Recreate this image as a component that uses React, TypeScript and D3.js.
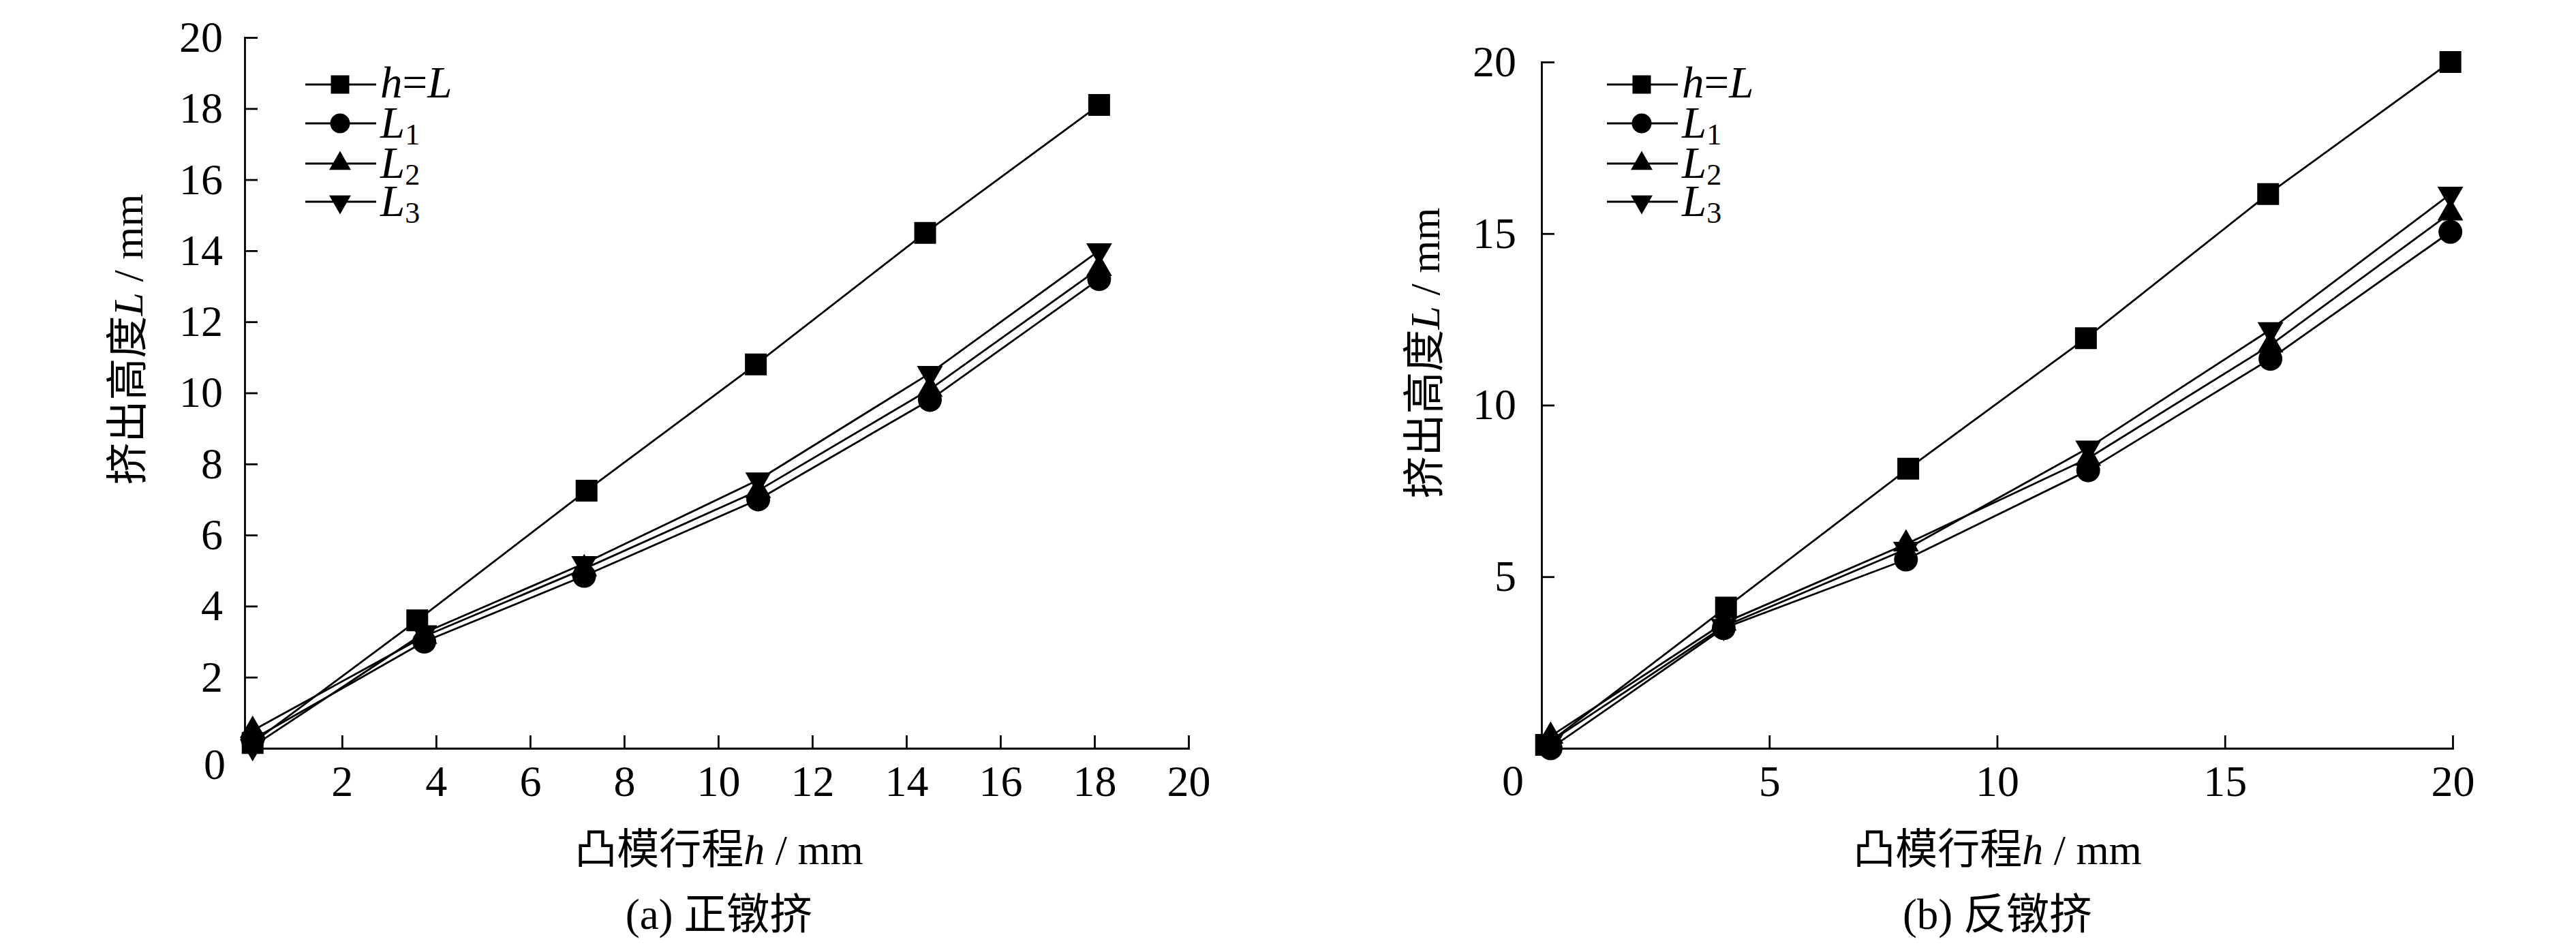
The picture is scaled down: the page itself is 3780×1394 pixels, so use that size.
import React, { useEffect, useRef } from 'react';
import * as d3 from 'd3';

// (a) 正镦挤
const xA_hL = [0.1, 3.6, 7.2, 10.8, 14.4, 18.1];
const yA_hL = [0.15, 3.6, 7.25, 10.8, 14.5, 18.1];
const xA_L = [0.1, 3.75, 7.15, 10.85, 14.5, 18.1];
const yA_L1 = [0.25, 3.0, 4.85, 7.0, 9.8, 13.2];
const yA_L2 = [0.5, 3.15, 5.05, 7.25, 10.1, 13.5];
const yA_L3 = [0.05, 3.25, 5.2, 7.55, 10.55, 14.0];

// (b) 反镦挤
const xB_hL = [0.1, 4.05, 8.05, 11.95, 15.95, 19.95];
const yB_hL = [0.1, 4.1, 8.15, 11.95, 16.15, 20.0];
const xB_L = [0.2, 4.0, 8.0, 12.0, 16.0, 19.95];
const yB_L1 = [0.0, 3.5, 5.5, 8.1, 11.35, 15.05];
const yB_L2 = [0.35, 3.65, 5.95, 8.45, 11.75, 15.6];
const yB_L3 = [0.2, 3.55, 5.8, 8.75, 12.2, 16.15];

const ticksA = [2, 4, 6, 8, 10, 12, 14, 16, 18, 20];
const ticksB = [5, 10, 15, 20];

const seriesNames = ['h=L', 'L1', 'L2', 'L3'];

const FONT = "'Liberation Serif', 'Times New Roman', 'Noto Sans CJK SC', serif";
const SW = 2.8;

type Kind = 'square' | 'circle' | 'up' | 'down';

interface Series {
  name: string;
  kind: Kind;
  xs: number[];
  ys: number[];
}

interface PanelCfg {
  series: Series[];
  xDomain: [number, number];
  xRange: [number, number];
  yRange: [number, number];
  xTicks: number[];
  yTicks: number[];
  yPad: number;
  zero: { x: number; y: number };
  legendX: number;
  yTitle: { x: number; y: number };
  centerX: number;
  caption: string;
}

const kinds: Kind[] = ['square', 'circle', 'up', 'down'];

const panelA: PanelCfg = {
  series: [
    { name: seriesNames[0], kind: kinds[0], xs: xA_hL, ys: yA_hL },
    { name: seriesNames[1], kind: kinds[1], xs: xA_L, ys: yA_L1 },
    { name: seriesNames[2], kind: kinds[2], xs: xA_L, ys: yA_L2 },
    { name: seriesNames[3], kind: kinds[3], xs: xA_L, ys: yA_L3 },
  ],
  xDomain: [-0.07, 20],
  xRange: [359, 1744],
  yRange: [1098, 55],
  xTicks: ticksA,
  yTicks: ticksA,
  yPad: 32,
  zero: { x: 315, y: 1143 },
  legendX: 448,
  yTitle: { x: 188, y: 498 },
  centerX: 1055,
  caption: '(a) 正镦挤',
};

const panelB: PanelCfg = {
  series: [
    { name: seriesNames[0], kind: kinds[0], xs: xB_hL, ys: yB_hL },
    { name: seriesNames[1], kind: kinds[1], xs: xB_L, ys: yB_L1 },
    { name: seriesNames[2], kind: kinds[2], xs: xB_L, ys: yB_L2 },
    { name: seriesNames[3], kind: kinds[3], xs: xB_L, ys: yB_L3 },
  ],
  xDomain: [0, 20],
  xRange: [2262, 3599],
  yRange: [1098, 91],
  xTicks: ticksB,
  yTicks: ticksB,
  yPad: 37,
  zero: { x: 2220, y: 1167 },
  legendX: 2358,
  yTitle: { x: 2091, y: 518 },
  centerX: 2931,
  caption: '(b) 反镦挤',
};

function symbolPath(kind: Kind, big: boolean) {
  if (kind === 'square') return d3.symbol(d3.symbolSquare, big ? 1024 : 729)();
  if (kind === 'circle') return d3.symbol(d3.symbolCircle, big ? 960 : 660)();
  return d3.symbol(d3.symbolTriangle, big ? 620 : 440)();
}

function addLabel(t: d3.Selection<SVGTextElement, unknown, null, undefined>, name: string) {
  if (name === 'h=L') {
    t.append('tspan').attr('font-style', 'italic').text('h');
    t.append('tspan').text('=');
    t.append('tspan').attr('font-style', 'italic').text('L');
  } else {
    t.append('tspan').attr('font-style', 'italic').text(name[0]);
    t.append('tspan').attr('font-size', 44).attr('dy', 10).text(name.slice(1));
  }
}

const Panel: React.FC<{ cfg: PanelCfg }> = ({ cfg }) => {
  const ref = useRef<SVGGElement>(null);

  useEffect(() => {
    if (!ref.current) return;
    const g = d3.select(ref.current);
    g.selectAll('*').remove();

    const x = d3.scaleLinear().domain(cfg.xDomain).range(cfg.xRange);
    const y = d3.scaleLinear().domain([0, 20]).range(cfg.yRange);

    const styleAxis = (ax: d3.Selection<SVGGElement, unknown, null, undefined>) => {
      ax.selectAll('path, line').attr('stroke', '#000').attr('stroke-width', SW);
      ax.select('.domain').attr('stroke-linecap', 'square');
      ax.selectAll('text').attr('font-size', 64).attr('font-family', FONT).attr('fill', '#000');
    };

    // y axis, ticks point inward
    const yAx = g.append('g')
      .attr('transform', `translate(${cfg.xRange[0]},0)`)
      .call(d3.axisLeft(y).tickValues(cfg.yTicks).tickSizeInner(-19).tickSizeOuter(0)
        .tickPadding(cfg.yPad).tickFormat(d3.format('d')));
    styleAxis(yAx);

    // x axis
    const xAx = g.append('g')
      .attr('transform', `translate(0,${cfg.yRange[0]})`)
      .call(d3.axisBottom(x).tickValues(cfg.xTicks).tickSizeInner(-19).tickSizeOuter(0)
        .tickPadding(25).tickFormat(d3.format('d')));
    styleAxis(xAx);

    g.append('text')
      .attr('x', cfg.zero.x)
      .attr('y', cfg.zero.y)
      .attr('text-anchor', 'middle')
      .attr('font-size', 64)
      .attr('font-family', FONT)
      .text('0');

    // series
    const line = d3.line<[number, number]>().x(d => x(d[0])).y(d => y(d[1]));
    cfg.series.forEach(s => {
      const pts = s.xs.map((v, i) => [v, s.ys[i]] as [number, number]);
      g.append('path')
        .attr('d', line(pts))
        .attr('fill', 'none')
        .attr('stroke', '#000')
        .attr('stroke-width', SW)
        .attr('stroke-linejoin', 'round');
      g.selectAll(null)
        .data(pts)
        .enter()
        .append('path')
        .attr('d', symbolPath(s.kind, true))
        .attr('fill', '#000')
        .attr('transform', d => `translate(${x(d[0])},${y(d[1])})${s.kind === 'down' ? ' rotate(180)' : ''}`);
    });

    // legend
    const rows = [124, 181, 240, 296];
    cfg.series.forEach((s, i) => {
      const ry = rows[i];
      g.append('line')
        .attr('x1', cfg.legendX).attr('x2', cfg.legendX + 104)
        .attr('y1', ry).attr('y2', ry)
        .attr('stroke', '#000').attr('stroke-width', SW);
      g.append('path')
        .attr('d', symbolPath(s.kind, false))
        .attr('fill', '#000')
        .attr('transform', `translate(${cfg.legendX + 51},${ry})${s.kind === 'down' ? ' rotate(180)' : ''}`);
      const t = g.append('text')
        .attr('x', cfg.legendX + 110)
        .attr('y', ry + (i === 0 ? 19 : 21))
        .attr('font-size', 65)
        .attr('font-family', FONT);
      addLabel(t, s.name);
    });

    // axis titles
    const yt = g.append('text')
      .attr('transform', `translate(${cfg.yTitle.x},${cfg.yTitle.y}) rotate(-90)`)
      .attr('text-anchor', 'middle')
      .attr('dominant-baseline', 'central')
      .attr('font-size', 62)
      .attr('font-family', FONT);
    yt.append('tspan').text('挤出高度');
    yt.append('tspan').attr('font-style', 'italic').text('L');
    yt.append('tspan').text(' / mm');

    const xt = g.append('text')
      .attr('x', cfg.centerX)
      .attr('y', 1268)
      .attr('text-anchor', 'middle')
      .attr('font-size', 62)
      .attr('font-family', FONT);
    xt.append('tspan').text('凸模行程');
    xt.append('tspan').attr('font-style', 'italic').text('h');
    xt.append('tspan').text(' / mm');

    g.append('text')
      .attr('x', cfg.centerX)
      .attr('y', 1363)
      .attr('text-anchor', 'middle')
      .attr('font-size', 63)
      .attr('font-family', FONT)
      .text(cfg.caption);
  }, [cfg]);

  return <g ref={ref} />;
};

export default function App() {
  return (
    <svg
      width={3780}
      height={1394}
      style={{ position: 'absolute', left: 0, top: 0, background: '#fff' }}
    >
      <rect width={3780} height={1394} fill="#fff" />
      <Panel cfg={panelA} />
      <Panel cfg={panelB} />
    </svg>
  );
}
